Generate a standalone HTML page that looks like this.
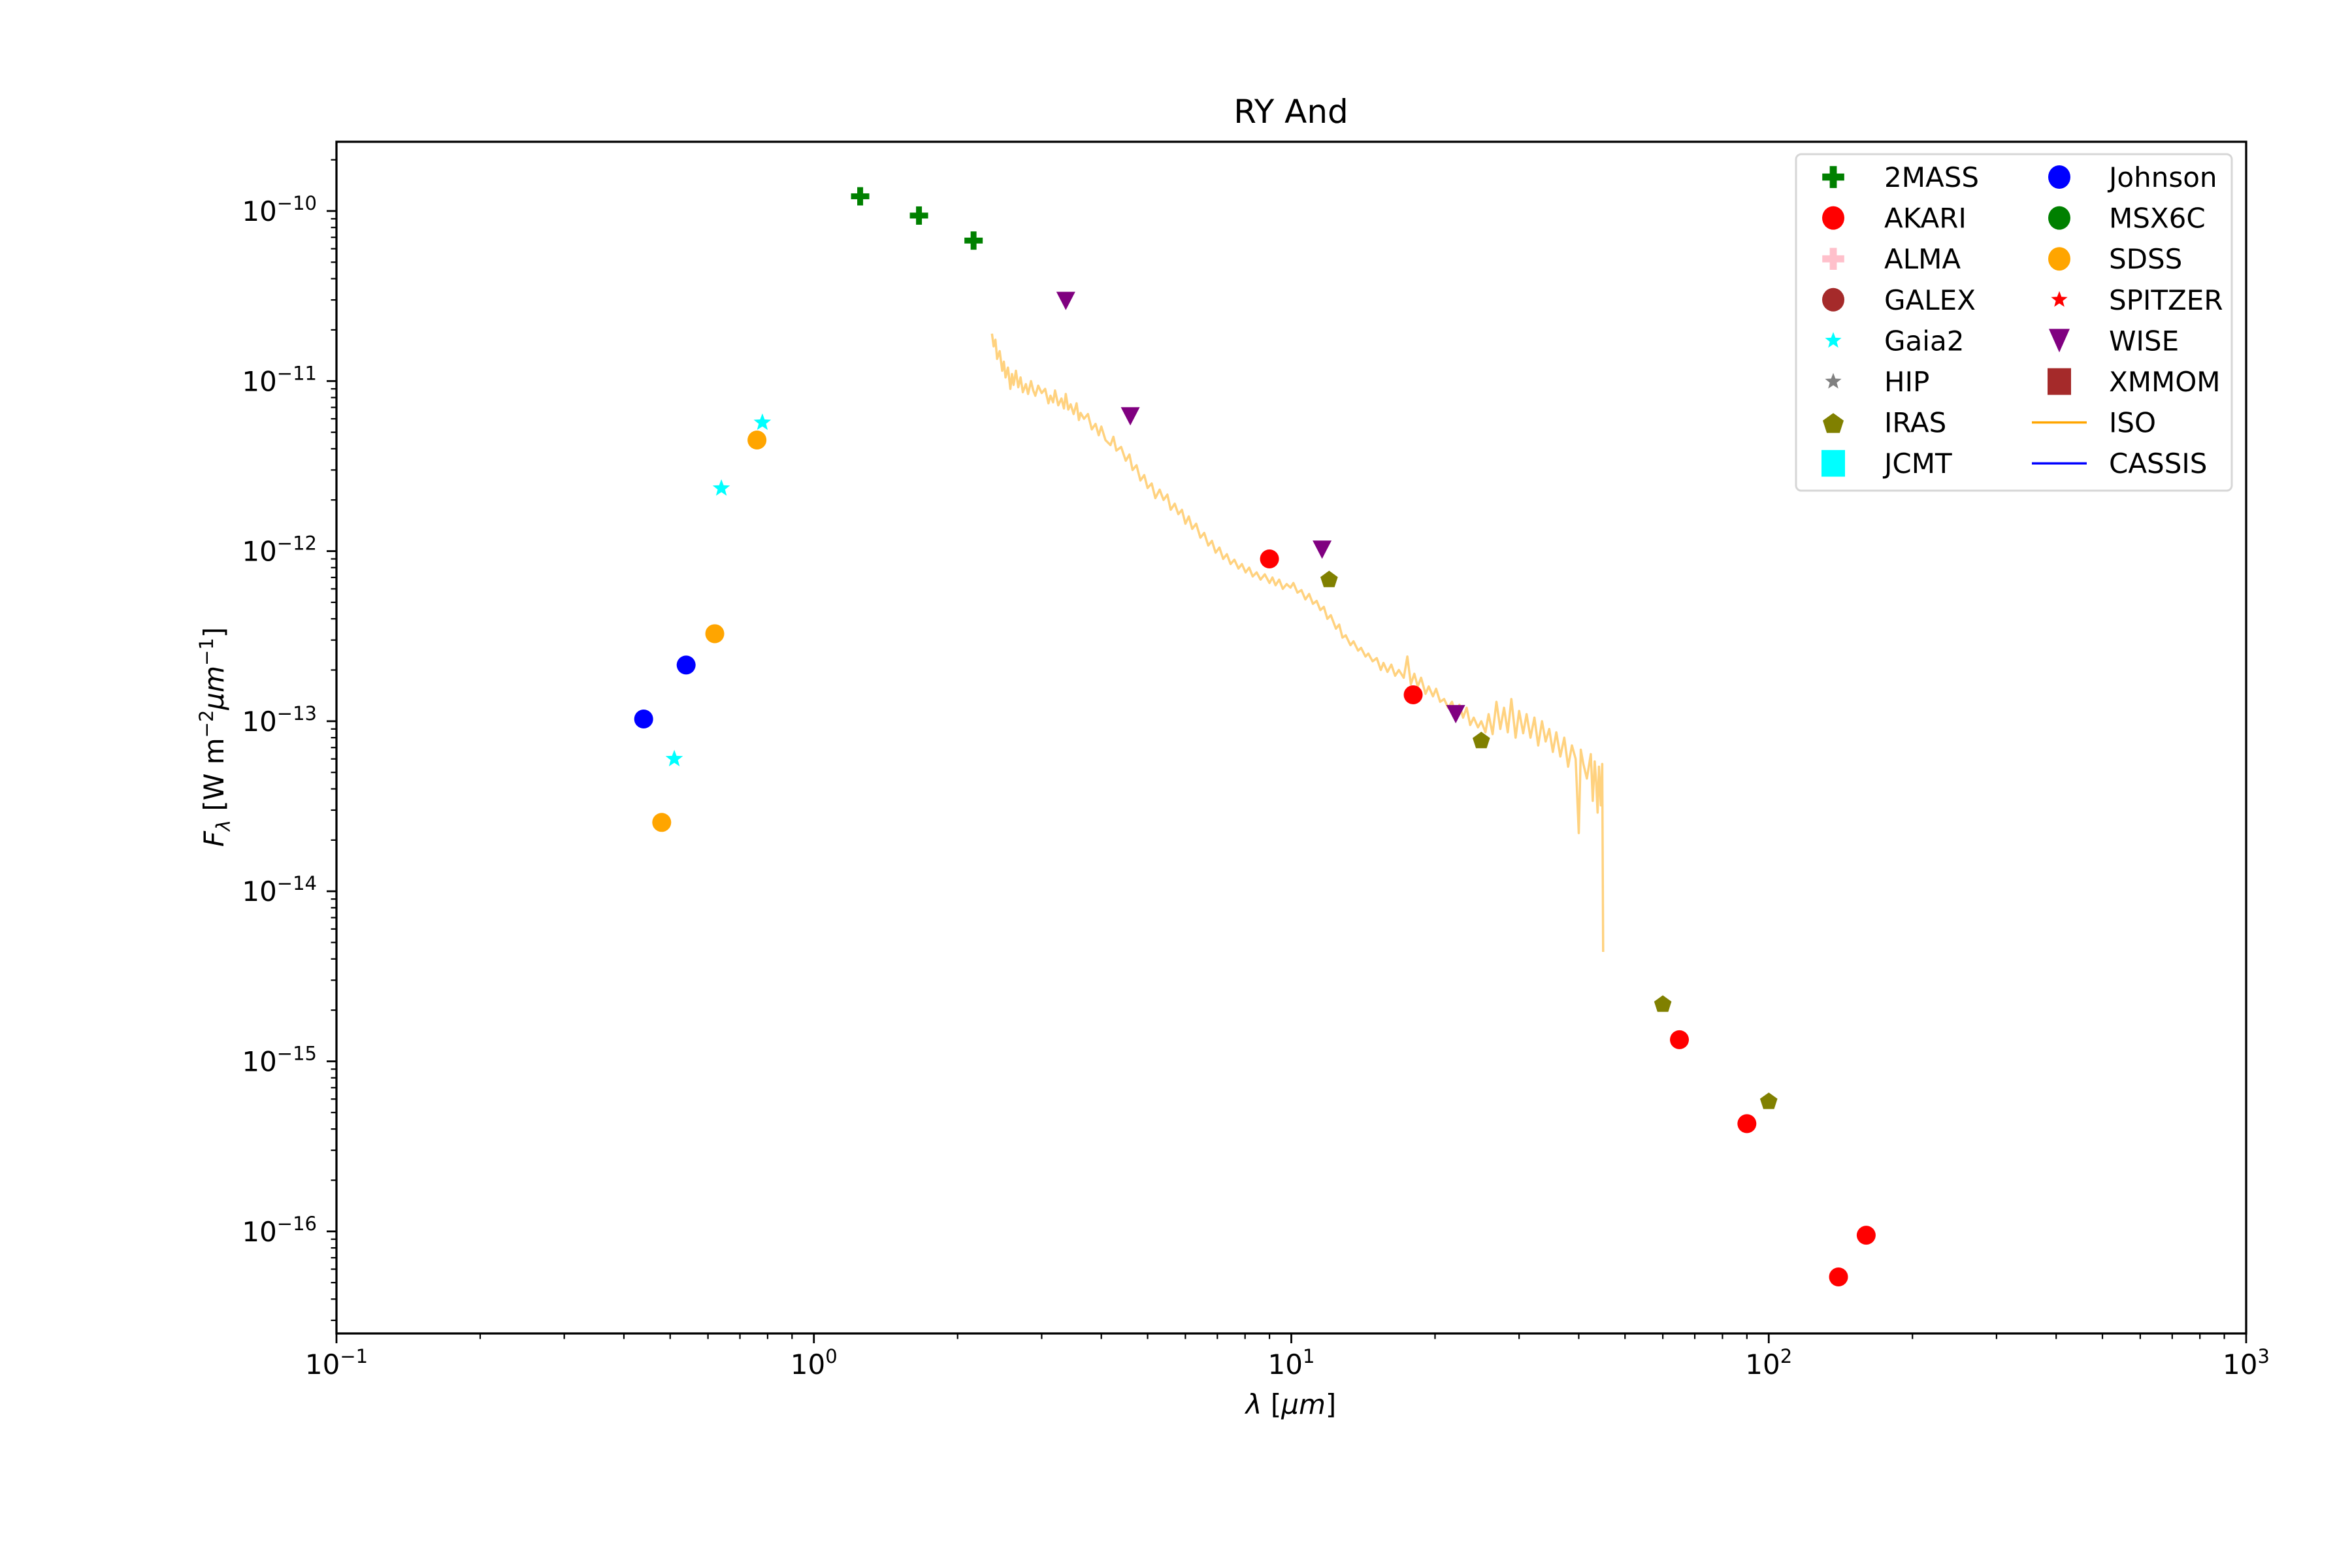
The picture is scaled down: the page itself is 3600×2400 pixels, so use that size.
<!DOCTYPE html>
<html><head><meta charset="utf-8"><style>
html,body{margin:0;padding:0;background:#fff}
svg{display:block;font-family:"DejaVu Sans","Liberation Sans",sans-serif}
</style></head><body>
<svg id="chart" width="3600" height="2400" viewBox="0 0 3600 2400" xmlns="http://www.w3.org/2000/svg">
<rect width="3600" height="2400" fill="#fff"/>
<text x="1976" y="188" font-size="50" text-anchor="middle">RY And</text>
<g id="plot"></g>
<g id="axes"></g>
<text x="1976" y="2164" font-size="42" text-anchor="middle"><tspan font-style="italic">λ</tspan> [<tspan font-style="italic">μm</tspan>]</text>
<text transform="translate(342,1128) rotate(-90)" font-size="42" text-anchor="middle"><tspan font-style="italic">F</tspan><tspan font-style="italic" font-size="29" dy="10">λ</tspan><tspan dy="-10"> [W m</tspan><tspan font-size="29" dy="-16">−2</tspan><tspan font-style="italic" dy="16">μm</tspan><tspan font-size="29" dy="-16">−1</tspan><tspan dy="16">]</tspan></text>
<g id="legend"></g>
</svg>
<script>
const mass2Wave=[1.25,1.66,2.16];
const mass2Flux=[1.22e-10,9.4e-11,6.7e-11];
const wiseWave=[3.37,4.6,11.6,22.1];
const wiseFlux=[2.96e-11,6.2e-12,1.02e-12,1.1e-13];
const akariWave=[9.0,18.0,65,90,160,140];
const akariFlux=[9.0e-13,1.43e-13,1.34e-15,4.3e-16,9.5e-17,5.4e-17];
const irasWave=[12,25,60,100];
const irasFlux=[6.9e-13,7.8e-14,2.2e-15,5.9e-16];
const johnsonWave=[0.44,0.54];
const johnsonFlux=[1.03e-13,2.14e-13];
const gaiaWave=[0.51,0.64,0.78];
const gaiaFlux=[6.0e-14,2.34e-12,5.7e-12];
const sdssWave=[0.48,0.62,0.76];
const sdssFlux=[2.54e-14,3.27e-13,4.5e-12];
const isoWave=[2.36,2.38,2.40,2.42,2.45,2.48,2.50,2.52,2.55,2.58,2.60,2.62,2.65,2.68,2.71,2.74,2.78,2.81,2.85,2.88,2.91,2.95,3.00,3.05,3.10,3.13,3.17,3.20,3.25,3.30,3.34,3.37,3.41,3.45,3.50,3.55,3.59,3.62,3.68,3.75,3.82,3.89,3.95,4.00,4.08,4.18,4.24,4.30,4.40,4.50,4.58,4.65,4.74,4.83,4.92,5.00,5.10,5.19,5.30,5.40,5.50,5.59,5.70,5.80,5.90,6.00,6.10,6.20,6.32,6.45,6.57,6.70,6.82,6.94,7.07,7.20,7.33,7.46,7.60,7.75,7.88,8.02,8.16,8.30,8.46,8.62,8.80,9.00,9.13,9.27,9.43,9.60,9.78,9.96,10.1,10.3,10.5,10.7,10.9,11.1,11.3,11.5,11.7,11.9,12.1,12.4,12.6,12.8,13.0,13.3,13.5,13.8,14.0,14.3,14.5,14.8,15.1,15.4,15.6,15.9,16.2,16.5,16.8,17.2,17.5,17.8,18.1,18.4,18.7,19.1,19.4,19.8,20.1,20.5,20.9,21.3,21.7,22.1,22.5,22.9,23.3,23.7,24.1,24.6,25.0,25.5,25.9,26.4,26.9,27.4,27.9,28.4,28.9,29.5,30.0,30.6,31.1,31.7,32.3,32.9,33.5,34.1,34.7,35.3,35.9,36.6,37.3,38.0,38.7,39.4,40.0,40.4,40.9,41.6,42.4,42.8,43.2,43.5,43.8,44.1,44.5,44.8,45.0,45.2];
const isoFlux=[1.9e-11,1.6e-11,1.75e-11,1.35e-11,1.5e-11,1.15e-11,1.3e-11,1.05e-11,1.2e-11,9.0e-12,1.1e-11,9.5e-12,1.15e-11,9.2e-12,1.05e-11,8.6e-12,9.6e-12,8.4e-12,1.0e-11,8.8e-12,8.2e-12,9.4e-12,8.5e-12,9.0e-12,7.4e-12,8.2e-12,7.5e-12,8.8e-12,7.2e-12,7.9e-12,6.9e-12,8.4e-12,6.8e-12,7.3e-12,6.4e-12,7.4e-12,5.9e-12,6.5e-12,6.0e-12,6.4e-12,5.2e-12,5.6e-12,4.8e-12,5.4e-12,4.5e-12,4.2e-12,4.7e-12,3.9e-12,4.1e-12,3.4e-12,3.7e-12,3.0e-12,3.2e-12,2.6e-12,2.8e-12,2.35e-12,2.5e-12,2.05e-12,2.3e-12,2.0e-12,2.15e-12,1.75e-12,1.9e-12,1.65e-12,1.75e-12,1.45e-12,1.6e-12,1.35e-12,1.45e-12,1.2e-12,1.28e-12,1.08e-12,1.15e-12,9.8e-13,1.05e-12,9.0e-13,9.6e-13,8.4e-13,8.9e-13,7.9e-13,8.4e-13,7.5e-13,8.0e-13,7.1e-13,7.5e-13,6.8e-13,7.3e-13,6.5e-13,7.0e-13,6.3e-13,6.8e-13,6.0e-13,6.4e-13,6.1e-13,6.5e-13,5.7e-13,5.9e-13,5.2e-13,5.6e-13,4.9e-13,5.1e-13,4.5e-13,4.7e-13,4.0e-13,4.2e-13,3.5e-13,3.7e-13,3.1e-13,3.2e-13,2.8e-13,2.95e-13,2.6e-13,2.7e-13,2.4e-13,2.5e-13,2.25e-13,2.35e-13,2.0e-13,2.2e-13,1.95e-13,2.15e-13,1.85e-13,2.0e-13,1.8e-13,2.4e-13,1.65e-13,1.9e-13,1.6e-13,1.8e-13,1.45e-13,1.6e-13,1.4e-13,1.55e-13,1.3e-13,1.35e-13,1.2e-13,1.3e-13,1.1e-13,1.25e-13,1.05e-13,1.2e-13,9.5e-14,1.05e-13,9.2e-14,1.0e-13,8.6e-14,1.1e-13,8.4e-14,1.3e-13,9.0e-14,1.2e-13,8.6e-14,1.35e-13,8.0e-14,1.15e-13,8.5e-14,1.1e-13,8.0e-14,1.05e-13,7.2e-14,1.0e-13,7.6e-14,9.0e-14,6.6e-14,8.6e-14,6.2e-14,8.0e-14,5.4e-14,7.2e-14,6.0e-14,2.2e-14,6.8e-14,5.6e-14,4.6e-14,6.4e-14,3.4e-14,5.8e-14,4.4e-14,2.9e-14,5.4e-14,3.2e-14,5.6e-14,4.4e-15];
const xTickExp=[-1,0,1,2,3];
const yTickExp=[-16,-15,-14,-13,-12,-11,-10];

const NS="http://www.w3.org/2000/svg";
const L=515,R=3438,T=217,B=2041;
const xMin=-1,xMax=3,yMin=-16.60,yMax=-9.593;
function xs(v){return L+(Math.log10(v)-xMin)/(xMax-xMin)*(R-L);}
function ys(v){return B-(Math.log10(v)-yMin)/(yMax-yMin)*(B-T);}
function mk(tag,attrs,parent){const e=document.createElementNS(NS,tag);for(const k in attrs)e.setAttribute(k,attrs[k]);parent.appendChild(e);return e;}
const plot=document.getElementById('plot'),axes=document.getElementById('axes'),leg=document.getElementById('legend');

function starPts(cx,cy,r){let p=[];for(let i=0;i<10;i++){const a=-Math.PI/2+i*Math.PI/5;const rr=i%2?r*0.42:r;p.push((cx+rr*Math.cos(a)).toFixed(1)+','+(cy+rr*Math.sin(a)).toFixed(1));}return p.join(' ');}
function pentPts(cx,cy,r){let p=[];for(let i=0;i<5;i++){const a=-Math.PI/2+i*2*Math.PI/5;p.push((cx+r*Math.cos(a)).toFixed(1)+','+(cy+r*Math.sin(a)).toFixed(1));}return p.join(' ');}
function marker(type,cx,cy,color,parent,s){
  s=s||1;
  if(type==='circle')return mk('circle',{cx:cx,cy:cy,r:14.5*s,fill:color},parent);
  if(type==='plus'){const g=mk('g',{},parent);mk('rect',{x:cx-14*s,y:cy-4.5*s,width:28*s,height:9*s,fill:color},g);mk('rect',{x:cx-4.5*s,y:cy-14*s,width:9*s,height:28*s,fill:color},g);return g;}
  if(type==='tri')return mk('polygon',{points:`${cx-14.5*s},${cy-14*s} ${cx+14.5*s},${cy-14*s} ${cx},${cy+14*s}`,fill:color},parent);
  if(type==='pent')return mk('polygon',{points:pentPts(cx,cy+2*s,14*s),fill:color},parent);
  if(type==='star')return mk('polygon',{points:starPts(cx,cy,14*s),fill:color},parent);
  if(type==='square')return mk('rect',{x:cx-15*s,y:cy-17*s,width:30*s,height:34*s,fill:color},parent);
}

// ISO spectrum
let d='';
for(let i=0;i<isoWave.length;i++){d+=(i?'L':'M')+xs(isoWave[i]).toFixed(1)+','+ys(isoFlux[i]).toFixed(1);}
const iso=mk('path',{d:d,fill:'none',stroke:'#ffa500','stroke-opacity':'0.5','stroke-width':'3.5','stroke-linejoin':'round'},plot);



function series(name,type,color,wave,flux){
  const g=mk('g',{},plot);
  
  
  for(let i=0;i<wave.length;i++){
    const m=marker(type,xs(wave[i]),ys(flux[i]),color,g);
    
    
  }
}
series('2mass','plus','#008000',mass2Wave,mass2Flux);
series('wise','tri','#800080',wiseWave,wiseFlux);
series('akari','circle','#ff0000',akariWave,akariFlux);
series('iras','pent','#808000',irasWave,irasFlux);
series('johnson','circle','#0000ff',johnsonWave,johnsonFlux);
series('gaia2','star','#00ffff',gaiaWave,gaiaFlux);
series('sdss','circle','#ffa500',sdssWave,sdssFlux);

// axes frame
const frame=mk('rect',{x:L,y:T,width:R-L,height:B-T,fill:'none',stroke:'#000','stroke-width':'3.3'},axes);


for(const e of xTickExp){
  const x=xs(Math.pow(10,e));
  mk('line',{x1:x,y1:B,x2:x,y2:B+15,stroke:'#000','stroke-width':'2.8'},axes);
  const t=mk('text',{x:x,y:B+62,'font-size':'42','text-anchor':'middle'},axes);
  
  
  t.innerHTML='10<tspan font-size="29" dy="-17">'+(e<0?'−'+(-e):e)+'</tspan>';
  if(e<xMax){for(let k=2;k<10;k++){const xm=xs(k*Math.pow(10,e));mk('line',{x1:xm,y1:B,x2:xm,y2:B+8.5,stroke:'#000','stroke-width':'2.2'},axes);}}
}
for(let e=-17;e<=-10;e++){
  for(let k=1;k<10;k++){
    const v=k*Math.pow(10,e);const lv=Math.log10(v);
    if(lv<yMin||lv>yMax)continue;
    const y=ys(v);
    if(k===1)mk('line',{x1:L-15,y1:y,x2:L,y2:y,stroke:'#000','stroke-width':'2.8'},axes);
    else mk('line',{x1:L-8.5,y1:y,x2:L,y2:y,stroke:'#000','stroke-width':'2.2'},axes);
  }
}
for(const e of yTickExp){
  const y=ys(Math.pow(10,e));
  const t=mk('text',{x:485,y:y+15,'font-size':'42','text-anchor':'end'},axes);
  
  
  t.innerHTML='10<tspan font-size="29" dy="-17">−'+(-e)+'</tspan>';
}

// legend
const lb=mk('rect',{x:2749,y:236,width:667,height:515,rx:8,fill:'#fff',stroke:'#d6d6d6','stroke-width':'3'},leg);


const col1=[['2MASS','plus','#008000'],['AKARI','circle','#ff0000'],['ALMA','plus','#ffc0cb'],['GALEX','circle','#a52a2a'],['Gaia2','star','#00ffff'],['HIP','star','#808080'],['IRAS','pent','#808000'],['JCMT','square','#00ffff']];
const col2=[['Johnson','circle','#0000ff'],['MSX6C','circle','#008000'],['SDSS','circle','#ffa500'],['SPITZER','star','#ff0000'],['WISE','tri','#800080'],['XMMOM','square','#a52a2a'],['ISO','line','#ffa500'],['CASSIS','line','#0000ff']];
function legRow(item,i,mx,tx){
  const y=271+i*62.6;
  const g=mk('g',{},leg);
  
  
  if(item[1]==='line')mk('line',{x1:mx-42,y1:y,x2:mx+42,y2:y,stroke:item[2],'stroke-width':'3.5'},g);
  else if(item[1]==='circle')mk('ellipse',{cx:mx,cy:y,rx:17,ry:18,fill:item[2]},g);
  else if(item[1]==='tri')mk('polygon',{points:`${mx-16},${y-18} ${mx+16},${y-18} ${mx},${y+18}`,fill:item[2]},g);
  else if(item[1]==='star')marker('star',mx,y,item[2],g,0.95);
  else marker(item[1],mx,y,item[2],g,1.2);
  const t=mk('text',{x:tx,y:y+15,'font-size':'42'},g);
  t.textContent=item[0];
}
col1.forEach((it,i)=>legRow(it,i,2806,2884));
col2.forEach((it,i)=>legRow(it,i,3152,3228));
</script>
</body></html>
